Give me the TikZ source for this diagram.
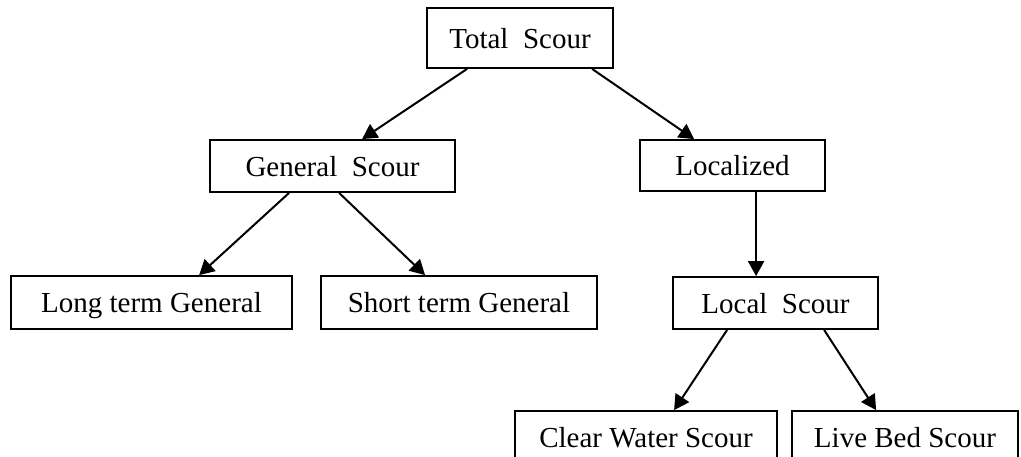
\documentclass[tikz,border=0pt]{standalone}
\usepackage{fontspec}
\setmainfont{Liberation Serif}
\usetikzlibrary{arrows.meta}
\tikzset{
  box/.style={draw, line width=1.8pt, inner sep=0pt, text height=20pt, text depth=0pt,
    font=\fontsize{29}{34}\selectfont},
  arr/.style={line width=2pt, -{Triangle[length=15pt,width=16pt]}}
}
\begin{document}
\begin{tikzpicture}[x=1pt,y=-1pt]
\clip (0,0) rectangle (1021,456);
\fill[white] (0,0) rectangle (1021,456);
\node[box, minimum width=186pt, minimum height=60pt] (TS) at (520,38) {Total\ \ Scour};
\node[box, minimum width=245pt, minimum height=52pt] (GS) at (332.5,166) {General\ \ Scour};
\node[box, minimum width=185pt, minimum height=51pt] (LZ) at (732.5,165.5) {Localized};
\node[box, minimum width=281pt, minimum height=53pt] (LT) at (151.5,302.5) {Long term General};
\node[box, minimum width=276pt, minimum height=53pt] (ST) at (459,302.5) {Short term General};
\node[box, minimum width=205pt, minimum height=52pt] (LS) at (775.5,303) {Local\ \ Scour};
\node[box, minimum width=262pt, minimum height=52pt] (CW) at (646,437) {Clear Water Scour};
\node[box, minimum width=226pt, minimum height=52pt] (LB) at (905,437) {Live Bed Scour};
\draw[arr] ([xshift=41pt]TS.south west) -- ([xshift=153pt]GS.north west);
\draw[arr] ([xshift=166pt]TS.south west) -- ([xshift=55pt]LZ.north west);
\draw[arr] ([xshift=80pt]GS.south west) -- ([xshift=189pt]LT.north west);
\draw[arr] ([xshift=130pt]GS.south west) -- ([xshift=105pt]ST.north west);
\draw[arr] ([xshift=117pt]LZ.south west) -- ([xshift=84pt]LS.north west);
\draw[arr] ([xshift=55pt]LS.south west) -- ([xshift=160pt]CW.north west);
\draw[arr] ([xshift=152pt]LS.south west) -- ([xshift=85pt]LB.north west);
\end{tikzpicture}
\end{document}
